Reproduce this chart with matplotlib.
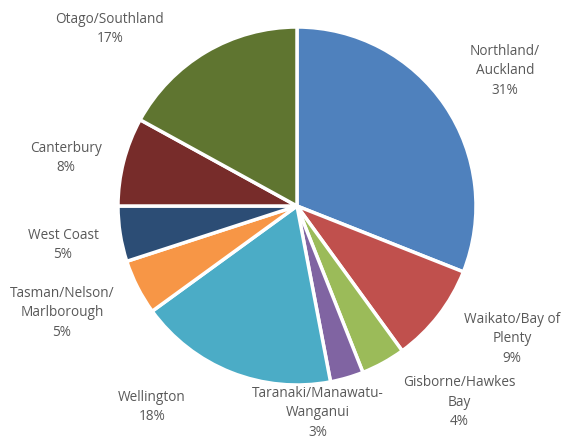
import matplotlib.pyplot as plt

# regional share of the total, clockwise from twelve o'clock
regions = ['Northland/\nAuckland', 'Waikato/Bay of\nPlenty', 'Gisborne/Hawkes\nBay',
           'Taranaki/Manawatu-\nWanganui', 'Wellington', 'Tasman/Nelson/\nMarlborough',
           'West Coast', 'Canterbury', 'Otago/Southland']
shares = [31, 9, 4, 3, 18, 5, 5, 8, 17]

colors = ['#4F81BD', '#C0504D', '#9BBB59', '#8064A2', '#4BACC6',
          '#F79646', '#2C4D75', '#772C2A', '#5F7530']

# label centres in pixel units (origin bottom-left)
label_pos = [(505, 366), (512, 98), (459, 35), (318, 24), (152, 30),
             (62, 124), (63, 192), (66, 279), (110, 408)]

W, H = 563, 437
fig = plt.figure(figsize=(W / 100, H / 100), dpi=100)
ax = fig.add_axes([0, 0, 1, 1])

wedges, _ = ax.pie(shares, colors=colors, startangle=90, counterclock=False,
                   radius=179, center=(297, 231),
                   wedgeprops=dict(edgecolor='white', linewidth=2.5))

for name, val, (x, y) in zip(regions, shares, label_pos):
    ax.text(x, y, f'{name}\n{val}%', ha='center', va='center',
            fontsize=9.8, family='Open Sans', color='#595959', linespacing=1.45)

ax.set_xlim(0, W)
ax.set_ylim(0, H)
ax.set_aspect('equal')
ax.axis('off')

fig.savefig('out.png', dpi=100)
